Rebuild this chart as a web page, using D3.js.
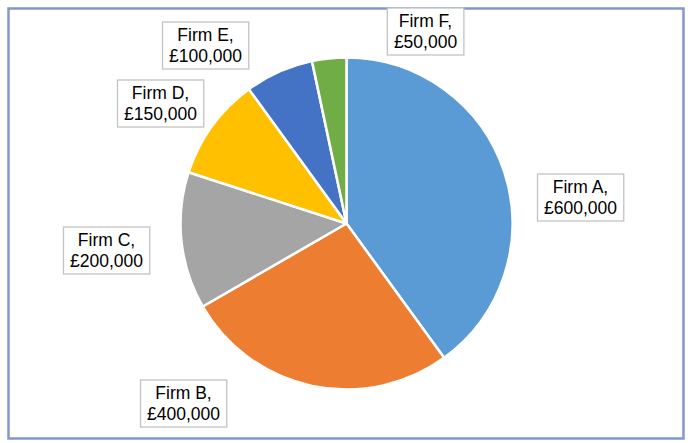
<!DOCTYPE html>
<html>
<head>
<meta charset="utf-8">
<script src="https://cdn.jsdelivr.net/npm/d3@7"></script>
<style>
  html, body { margin: 0; padding: 0; background: #fff; }
  svg { display: block; }
</style>
</head>
<body>
<div id="chart"></div>
<script>
const firms = ["Firm A", "Firm B", "Firm C", "Firm D", "Firm E", "Firm F"];
const values = [600000, 400000, 200000, 150000, 100000, 50000];
const colors = ["#5b9bd5", "#ed7d31", "#a5a5a5", "#ffc000", "#4472c4", "#70ad47"];

// label centres, relative to the pie centre (Excel "best fit" placement)
const labelOffsets = [[234, -26], [-163, 180], [-240, 27], [-186, -120], [-141, -178], [79, -192]];

const WIDTH = 690;
const HEIGHT = 443;
const CX = 346.5;
const CY = 223.5;
const R = 166;

const fmt = (v) => "£" + d3.format(",")(v);

const svg = d3
  .select("#chart")
  .append("svg")
  .attr("width", WIDTH)
  .attr("height", HEIGHT);

svg
  .append("rect")
  .attr("x", 8.5)
  .attr("y", 8.5)
  .attr("width", 675)
  .attr("height", 430)
  .attr("fill", "#fff")
  .attr("stroke", "#8297d2")
  .attr("stroke-width", 2.5);

const pie = d3.pie().sort(null).value((d) => d.value);
const arc = d3.arc().innerRadius(0).outerRadius(R);

const slices = pie(firms.map((f, i) => ({ firm: f, value: values[i], color: colors[i] })));

const g = svg.append("g").attr("transform", `translate(${CX},${CY})`);

g.selectAll("path")
  .data(slices)
  .join("path")
  .attr("d", arc)
  .attr("fill", (d) => d.data.color)
  .attr("stroke", "#fff")
  .attr("stroke-width", 2.5)
  .attr("stroke-linejoin", "round");

const labels = g
  .selectAll("g.label")
  .data(slices)
  .join("g")
  .attr("class", "label")
  .attr("transform", (d, i) => `translate(${labelOffsets[i][0]},${labelOffsets[i][1]})`);

const box = labels.append("rect").attr("fill", "#fff").attr("stroke", "#c3c3c3").attr("stroke-width", 1.3);

const txt = labels
  .append("text")
  .attr("text-anchor", "middle")
  .attr("font-family", "Liberation Sans, Arial, sans-serif")
  .attr("font-size", 17.5)
  .attr("fill", "#000");

txt.append("tspan").attr("x", 0).attr("y", -4.5).text((d) => d.data.firm + ",");
txt.append("tspan").attr("x", 0).attr("y", 16.5).text((d) => fmt(d.data.value));

txt.each(function (d, i) {
  const b = this.getBBox();
  d3.select(box.nodes()[i])
    .attr("x", b.x - 6.5)
    .attr("y", -23.5)
    .attr("width", b.width + 13)
    .attr("height", 47);
});
</script>
</body>
</html>
